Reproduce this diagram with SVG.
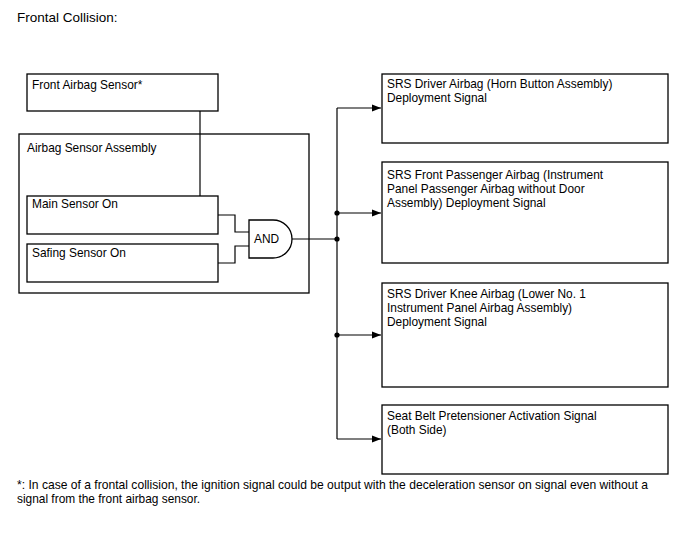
<svg xmlns="http://www.w3.org/2000/svg" width="688" height="560" viewBox="0 0 688 560">
<defs>
<style>
.t{font-family:"Liberation Sans",Arial,sans-serif;font-size:11.9px;fill:#000}
.b{fill:#fff;stroke:#000;stroke-width:1.3}
.w{fill:none;stroke:#000;stroke-width:1.2}
</style>
<marker id="ah" markerWidth="10" markerHeight="8" refX="9" refY="4" orient="auto" markerUnits="userSpaceOnUse">
<path d="M0,0.5 L9,4 L0,7.5 Z" fill="#000"/>
</marker>
</defs>
<rect width="688" height="560" fill="#fff"/>
<text x="17" y="22" class="t" style="font-size:13.5px">Frontal Collision:</text>

<g id="assembly">
<rect class="b" x="19" y="134" width="290" height="159"/>
<text x="27" y="152" class="t">Airbag Sensor Assembly</text>
</g>
<g id="front-sensor">
<rect class="b" x="27" y="74" width="191" height="37"/>
<text x="32" y="89" class="t">Front Airbag Sensor*</text>
</g>
<g id="main-sensor">
<rect class="b" x="27" y="196" width="191" height="38"/>
<text x="32" y="208" class="t">Main Sensor On</text>
</g>
<g id="safing-sensor">
<rect class="b" x="27" y="244" width="191" height="38"/>
<text x="32" y="257" class="t">Safing Sensor On</text>
</g>
<g id="and-gate">
<path class="b" d="M249,220 H273 A19,19 0 0 1 273,258 H249 Z"/>
<text x="254" y="243" class="t">AND</text>
</g>
<g id="out1">
<rect class="b" x="382" y="74" width="286" height="69"/>
<text x="387" y="88" class="t">SRS Driver Airbag (Horn Button Assembly)</text>
<text x="387" y="102" class="t">Deployment Signal</text>
</g>
<g id="out2">
<rect class="b" x="382" y="162" width="286" height="101"/>
<text x="387" y="179" class="t">SRS Front Passenger Airbag (Instrument</text>
<text x="387" y="193" class="t">Panel Passenger Airbag without Door</text>
<text x="387" y="207" class="t">Assembly) Deployment Signal</text>
</g>
<g id="out3">
<rect class="b" x="382" y="283" width="286" height="104"/>
<text x="387" y="298" class="t">SRS Driver Knee Airbag (Lower No. 1</text>
<text x="387" y="312" class="t">Instrument Panel Airbag Assembly)</text>
<text x="387" y="326" class="t">Deployment Signal</text>
</g>
<g id="out4">
<rect class="b" x="382" y="405" width="286" height="69"/>
<text x="387" y="420" class="t">Seat Belt Pretensioner Activation Signal</text>
<text x="387" y="434" class="t">(Both Side)</text>
</g>

<g id="connectors">
<path class="w" d="M200,111 V196"/>
<path class="w" d="M218,215 H235 V232 H249"/>
<path class="w" d="M218,263 H235 V246 H249"/>
<path class="w" d="M292,239 H337"/>
<path class="w" d="M337,108 V439"/>
<path class="w" d="M337,108 H381" marker-end="url(#ah)"/>
<path class="w" d="M337,213 H381" marker-end="url(#ah)"/>
<path class="w" d="M337,335 H381" marker-end="url(#ah)"/>
<path class="w" d="M337,439 H381" marker-end="url(#ah)"/>
<circle cx="337" cy="213" r="2.6" fill="#000"/>
<circle cx="337" cy="239" r="2.6" fill="#000"/>
<circle cx="337" cy="335" r="2.6" fill="#000"/>
</g>

<text x="17" y="489" class="t" textLength="631" lengthAdjust="spacingAndGlyphs">*: In case of a frontal collision, the ignition signal could be output with the deceleration sensor on signal even without a</text>
<text x="17" y="503" class="t">signal from the front airbag sensor.</text>
</svg>
